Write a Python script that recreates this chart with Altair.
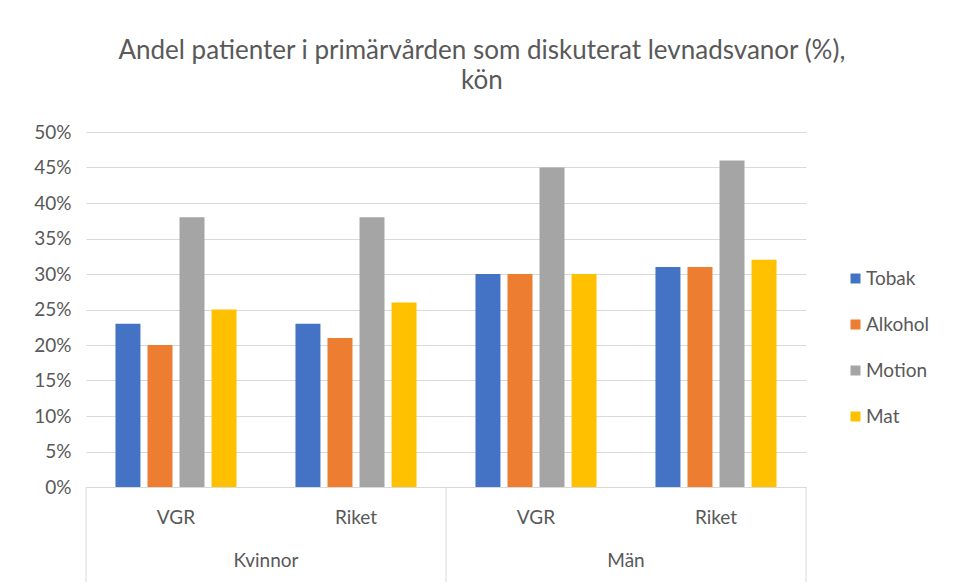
import altair as alt
import pandas as pd

kon = ["Kvinnor", "Kvinnor", "Män", "Män"]
ort = ["VGR", "Riket", "VGR", "Riket"]
series = ["Tobak", "Alkohol", "Motion", "Mat"]
tobak = [23, 23, 30, 31]
alkohol = [20, 21, 30, 31]
motion = [38, 38, 45, 46]
mat = [25, 26, 30, 32]
y_ticks = [0, 5, 10, 15, 20, 25, 30, 35, 40, 45, 50]
colors = ["#4472C4", "#ED7D31", "#A5A5A5", "#FFC000"]

vals = {"Tobak": tobak, "Alkohol": alkohol, "Motion": motion, "Mat": mat}
keys = [f"{k} {o}" for k, o in zip(kon, ort)]
rows = []
for s in series:
    for i, key in enumerate(keys):
        rows.append({"key": key, "serie": s, "value": vals[s][i] / 100})
df = pd.DataFrame(rows)

W, H = 720, 355
FONT = "Lato"
GREY = "#595959"
FS = 19

xscale = alt.Scale(domain=keys, paddingInner=0, paddingOuter=0)

bars = alt.Chart(df).mark_bar().encode(
    x=alt.X("key:N", scale=xscale, sort=keys, title=None,
            axis=alt.Axis(labelExpr="split(datum.label, ' ')[1]", labelAngle=0,
                          ticks=False, grid=False, domainColor="#d9d9d9", labelPadding=21,
                          labelFontSize=FS, labelColor=GREY, labelFont=FONT)),
    xOffset=alt.XOffset("serie:N", sort=series,
                        scale=alt.Scale(paddingInner=0.22, paddingOuter=0.92)),
    y=alt.Y("value:Q", scale=alt.Scale(domain=[0, 0.5]), title=None,
            axis=alt.Axis(format=".0%", values=[t / 100 for t in y_ticks],
                          domain=False, ticks=False, grid=True, gridColor="#d9d9d9",
                          labelOverlap=False,
                          labelPadding=15, labelFontSize=FS, labelColor=GREY,
                          labelFont=FONT)),
    color=alt.Color("serie:N", sort=series, scale=alt.Scale(domain=series, range=colors),
                    legend=alt.Legend(title=None, orient="none", legendX=760, legendY=137,
                                      symbolType="square", symbolSize=100,
                                      symbolStrokeWidth=0,
                                      labelFontSize=FS, labelColor=GREY, labelFont=FONT,
                                      rowPadding=26, labelOffset=1)),
)

grp_df = pd.DataFrame({"key": [keys[0], keys[2]], "kon": [kon[0], kon[2]]})
grp_text = alt.Chart(grp_df).mark_text(fontSize=FS, color=GREY, font=FONT,
                                       baseline="middle").encode(
    x=alt.X("key:N", bandPosition=1),
    y=alt.value(H + 74),
    text="kon:N",
)

sep_left = pd.DataFrame({"key": [keys[0], keys[2]]})
sep_right = pd.DataFrame({"key": [keys[3]]})
rule_left = alt.Chart(sep_left).mark_rule(color="#d9d9d9").encode(
    x=alt.X("key:N", bandPosition=0), y=alt.value(H), y2=alt.value(H + 95))
rule_right = alt.Chart(sep_right).mark_rule(color="#d9d9d9").encode(
    x=alt.X("key:N", bandPosition=1), y=alt.value(H), y2=alt.value(H + 95))

chart = alt.layer(bars, rule_left, rule_right, grp_text).properties(
    width=W, height=H,
    title=alt.TitleParams(
        ["Andel patienter i primärvården som diskuterat levnadsvanor (%),", "kön"],
        fontSize=26, font=FONT, color=GREY, fontWeight="normal",
        anchor="middle", frame="bounds", offset=29, lineHeight=30),
    padding={"left": 25, "top": 30, "right": 5, "bottom": 5},
).configure_view(stroke=None)

chart.save("out.html", embed_options={"renderer": "svg", "actions": False})
